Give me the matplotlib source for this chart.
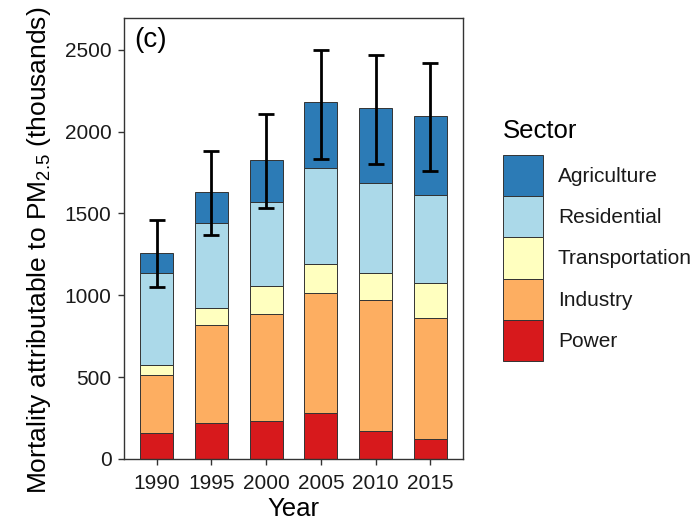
import matplotlib
matplotlib.use("Agg")
import matplotlib.pyplot as plt
import matplotlib.patches as mpatches
import numpy as np

plt.rcParams['font.family'] = ['Liberation Sans', 'DejaVu Sans']
plt.rcParams['mathtext.default'] = 'regular'

years = ['1990', '1995', '2000', '2005', '2010', '2015']
sectors = ['Power', 'Industry', 'Transportation', 'Residential', 'Agriculture']

power = [157, 218, 234, 282, 169, 122]
industry = [359, 602, 651, 732, 800, 737]
transportation = [61, 102, 172, 176, 170, 219]
residential = [562, 521, 514, 590, 547, 534]
agriculture = [118, 189, 257, 400, 459, 486]

err_low = [1051, 1367, 1534, 1835, 1804, 1759]
err_high = [1459, 1882, 2106, 2500, 2465, 2420]

colors = {'Power': '#d7191c', 'Industry': '#fdae61', 'Transportation': '#ffffbf',
          'Residential': '#abd9e9', 'Agriculture': '#2c7bb6'}
edge = '#333333'

W, H = 697, 522
fig = plt.figure(figsize=(W / 100, H / 100), dpi=100)
ax = fig.add_axes([124 / W, 1 - 459 / H, (463 - 124) / W, (459 - 18) / H])

x = np.arange(len(years))
bottom = np.zeros(len(years))
for name, vals in zip(sectors, [power, industry, transportation, residential, agriculture]):
    ax.bar(x, vals, width=0.6, bottom=bottom, color=colors[name],
           edgecolor=edge, linewidth=0.7)
    bottom += np.array(vals)

# error bars around the stacked total
total = bottom
yerr = np.array([total - np.array(err_low), np.array(err_high) - total])
ax.errorbar(x, total, yerr=yerr, fmt='none', ecolor='black', elinewidth=2,
            capsize=6, capthick=2)

ax.set_xlim(-0.6, 5.6)
ax.set_ylim(0, 2694)
ax.set_xticks(x)
ax.set_xticklabels(years)
ax.set_yticks([0, 500, 1000, 1500, 2000, 2500])
ax.tick_params(labelsize=15, length=4, width=1, colors=edge, labelcolor='#1a1a1a')
ax.tick_params(axis='x', pad=6.5)
ax.tick_params(axis='y', pad=5)
for s in ax.spines.values():
    s.set_linewidth(1)
    s.set_color(edge)

ax.set_xlabel('Year', fontsize=18.5, labelpad=3)
ax.set_ylabel('Mortality attributable to PM$_{2.5}$ (thousands)', fontsize=19)
ax.yaxis.set_label_coords(-0.21, 0.474)
ax.text(0.03, 0.98, '(c)', transform=ax.transAxes, fontsize=20, va='top', ha='left')

# legend drawn by hand so the keys stack edge to edge
key_x, key_w, key_h, key_top = 503, 40, 41.2, 155
fig.text(key_x / W, 1 - 138.5 / H, 'Sector', fontsize=18.5, va='baseline', ha='left')
for i, name in enumerate(sectors[::-1]):
    top = key_top + i * key_h
    fig.add_artist(mpatches.Rectangle((key_x / W, 1 - (top + key_h) / H), key_w / W, key_h / H,
                                      transform=fig.transFigure, facecolor=colors[name],
                                      edgecolor=edge, linewidth=0.7))
    fig.text(558 / W, 1 - (top + key_h / 2 + 6.5) / H, name, fontsize=15,
             va='baseline', ha='left', color='#1a1a1a')

fig.savefig('out.png', dpi=100)
